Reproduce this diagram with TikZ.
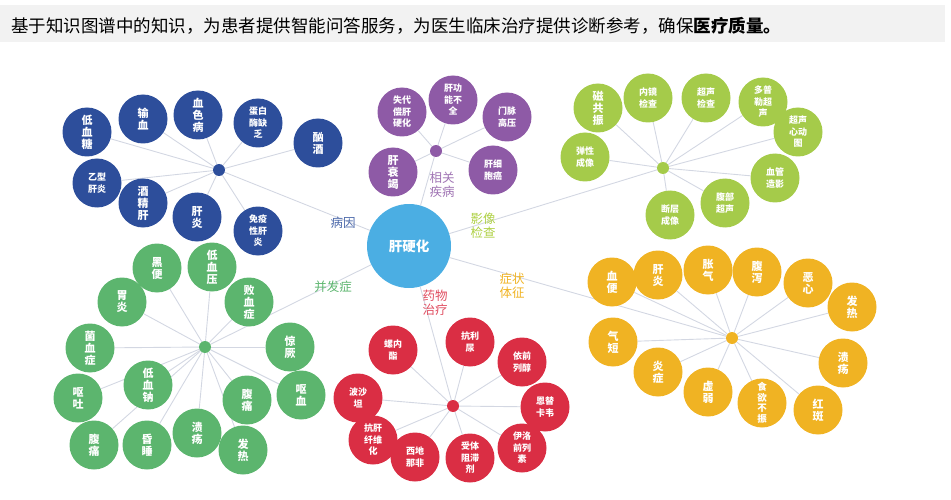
\documentclass[tikz,border=0pt]{standalone}
\usepackage{fontspec}
\newfontfamily\cjk{Noto Sans CJK SC}
\usetikzlibrary{backgrounds}

\definecolor{titlebg}{HTML}{F2F2F2}
\definecolor{linkgrey}{HTML}{D3D7E2}
\definecolor{ccenter}{HTML}{4BAEE3}
\definecolor{ccause}{HTML}{2D4E9B}
\definecolor{cdisease}{HTML}{8E5AA6}
\definecolor{cimaging}{HTML}{A5CB4A}
\definecolor{csymptom}{HTML}{F0B323}
\definecolor{cdrug}{HTML}{DA2E44}
\definecolor{ccompl}{HTML}{5CB56E}

\tikzset{
  leaf/.style={circle, fill=#1, minimum size=49pt, inner sep=0pt, text=white, align=center},
  bigtxt/.style={font=\cjk\bfseries\fontsize{11}{12}\selectfont},
  smalltxt/.style={font=\cjk\bfseries\fontsize{9}{11.5}\selectfont},
  fourtxt/.style={font=\cjk\bfseries\fontsize{9.5}{10.5}\selectfont},
  hub/.style={circle, fill=#1, minimum size=12pt, inner sep=0pt},
  link/.style={draw=linkgrey, line width=0.9pt},
  tag/.style={text=#1, align=center, font=\cjk\fontsize{12.5}{14}\selectfont}
}

\begin{document}
\begin{tikzpicture}[x=1pt,y=-1pt]
    \useasboundingbox (0,0) rectangle (951,500);

    % Title bar
    \fill[titlebg] (0,5) rectangle (945,42);
    \node[anchor=west, inner sep=0pt, font=\cjk\fontsize{17.5}{19}\selectfont] (title) at (11,26)
        {基于知识图谱中的知识，为患者提供智能问答服务，为医生临床治疗提供诊断参考，确保\textbf{医疗质量。}};

    % Center
    \node[circle, fill=ccenter, minimum size=84pt, inner sep=0pt, text=white,
          font=\cjk\bfseries\fontsize{13.5}{16}\selectfont] (liver) at (409,246) {肝硬化};

    % Hubs
    \node[hub=ccause] (cause) at (219,170) {};
    \node[hub=cdisease] (disease) at (436,151) {};
    \node[hub=cimaging] (imaging) at (663,168) {};
    \node[hub=csymptom] (symptom) at (732,338) {};
    \node[hub=cdrug] (drug) at (453,406) {};
    \node[hub=ccompl] (compl) at (205,347) {};

    % Causes
    \foreach \i/\x/\y/\s/\t in {1/87/132/bigtxt/{低\\血\\糖}, 2/143/119/bigtxt/{输\\血},
        3/198/115/bigtxt/{血\\色\\病}, 4/258/123/smalltxt/{蛋白\\酶缺\\乏}, 5/318/143/bigtxt/{酗\\酒},
        6/97/183/smalltxt/{乙型\\肝炎}, 7/143/203/bigtxt/{酒\\精\\肝}, 8/197/217/bigtxt/{肝\\炎},
        9/258/231/smalltxt/{免疫\\性肝\\炎}}
        \node[leaf=ccause, \s] (cause\i) at (\x,\y) {\t};

    % Related diseases
    \foreach \i/\x/\y/\s/\t in {1/402/112/smalltxt/{失代\\偿肝\\硬化}, 2/453/100/smalltxt/{肝功\\能不\\全},
        3/507/117/smalltxt/{门脉\\高压}, 4/393/172/bigtxt/{肝\\衰\\竭}, 5/493/170/smalltxt/{肝细\\胞癌}}
        \node[leaf=cdisease, \s] (disease\i) at (\x,\y) {\t};

    % Imaging
    \foreach \i/\x/\y/\s/\t in {1/598/108/bigtxt/{磁\\共\\振}, 2/648/98/smalltxt/{内镜\\检查},
        3/706/98/smalltxt/{超声\\检查}, 4/763/102/smalltxt/{多普\\勒超\\声}, 5/798/132/smalltxt/{超声\\心动\\图},
        6/775/178/smalltxt/{血管\\造影}, 7/725/203/smalltxt/{腹部\\超声}, 8/670/215/smalltxt/{断层\\成像},
        9/585/157/smalltxt/{弹性\\成像}}
        \node[leaf=cimaging, \s] (imaging\i) at (\x,\y) {\t};

    % Symptoms
    \foreach \i/\x/\y/\s/\t in {1/612/282/bigtxt/{血\\便}, 2/658/275/bigtxt/{肝\\炎},
        3/708/270/bigtxt/{胀\\气}, 4/757/272/bigtxt/{腹\\泻}, 5/808/283/bigtxt/{恶\\心},
        6/852/307/bigtxt/{发\\热}, 7/613/342/bigtxt/{气\\短}, 8/658/372/bigtxt/{炎\\症},
        9/708/392/bigtxt/{虚\\弱}, 10/762/403/fourtxt/{食\\欲\\不\\振}, 11/818/410/bigtxt/{红\\斑},
        12/843/363/bigtxt/{溃\\疡}}
        \node[leaf=csymptom, \s] (symptom\i) at (\x,\y) {\t};

    % Drugs
    \foreach \i/\x/\y/\s/\t in {1/393/350/smalltxt/{螺内\\酯}, 2/470/342/smalltxt/{抗利\\尿},
        3/522/362/smalltxt/{依前\\列醇}, 4/545/407/smalltxt/{恩替\\卡韦}, 5/522/448/smalltxt/{伊洛\\前列\\素},
        6/470/458/smalltxt/{受体\\阻滞\\剂}, 7/415/457/smalltxt/{西地\\那非}, 8/373/440/smalltxt/{抗肝\\纤维\\化},
        9/358/398/smalltxt/{波沙\\坦}}
        \node[leaf=cdrug, \s] (drug\i) at (\x,\y) {\t};

    % Complications
    \foreach \i/\x/\y/\s/\t in {1/157/268/bigtxt/{黑\\便}, 2/212/267/bigtxt/{低\\血\\压},
        3/122/302/bigtxt/{胃\\炎}, 4/249/302/bigtxt/{败\\血\\症}, 5/90/348/bigtxt/{菌\\血\\症},
        6/290/347/bigtxt/{惊\\厥}, 7/78/398/bigtxt/{呕\\吐}, 8/148/385/bigtxt/{低\\血\\钠},
        9/301/395/bigtxt/{呕\\血}, 10/247/400/bigtxt/{腹\\痛}, 11/94/445/bigtxt/{腹\\痛},
        12/147/445/bigtxt/{昏\\睡}, 13/197/433/bigtxt/{溃\\疡}, 14/243/450/bigtxt/{发\\热}}
        \node[leaf=ccompl, \s] (compl\i) at (\x,\y) {\t};

    % Branch labels
    \node[tag=ccause!85!white] (causelab) at (343,223) {病因};
    \node[tag=cdisease!85!white] (diseaselab) at (442,185) {相关\\疾病};
    \node[tag=cimaging!90!yellow] (imaginglab) at (483,226) {影像\\检查};
    \node[tag=csymptom] (symptomlab) at (512,286) {症状\\体征};
    \node[tag=cdrug!85!white] (druglab) at (435,303) {药物\\治疗};
    \node[tag=ccompl] (compllab) at (333,287) {并发症};

    % Connectors
    \begin{scope}[on background layer]
        \foreach \h in {cause,disease,imaging,symptom,drug,compl}
            \draw[link] (liver) -- (\h);
        \foreach \i in {1,...,9} \draw[link] (cause) -- (cause\i);
        \foreach \i in {1,...,5} \draw[link] (disease) -- (disease\i);
        \foreach \i in {1,...,9} \draw[link] (imaging) -- (imaging\i);
        \foreach \i in {1,...,12} \draw[link] (symptom) -- (symptom\i);
        \foreach \i in {1,...,9} \draw[link] (drug) -- (drug\i);
        \foreach \i in {1,...,14} \draw[link] (compl) -- (compl\i);
    \end{scope}
\end{tikzpicture}
\end{document}
